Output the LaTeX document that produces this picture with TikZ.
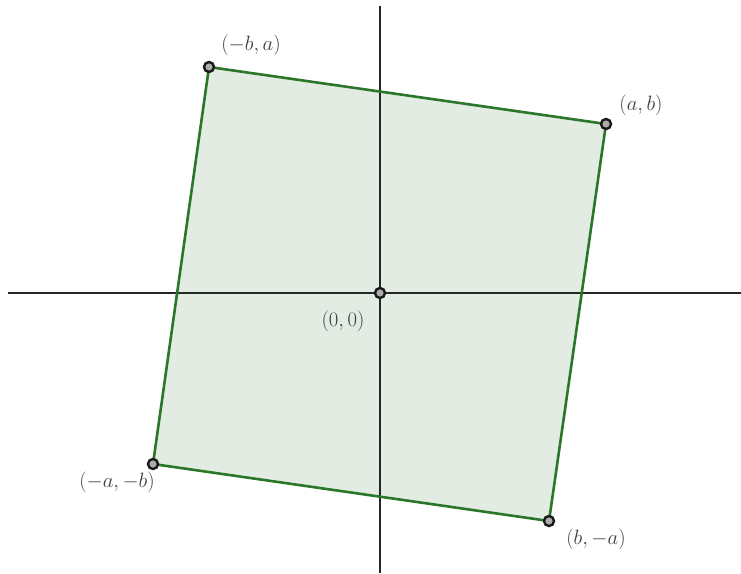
\documentclass[tikz,border=0pt]{standalone}
\usepackage{amsmath}
\definecolor{edgegreen}{HTML}{2A772A}
\definecolor{fillgreen}{HTML}{E2ECE2}
\definecolor{labelgray}{HTML}{404040}
\begin{document}
\begin{tikzpicture}[x=1pt,y=-1pt,
  axis/.style={line width=2.7pt,black!85},
  edge/.style={line width=2.6pt,edgegreen},
  vert/.style={circle,draw=black!90,line width=2.4pt,fill=gray!65,inner sep=0pt,minimum size=10pt},
  lbl/.style={text=labelgray,font=\fontsize{19.5}{22}\selectfont,inner sep=0pt}]
\useasboundingbox (0,0) rectangle (741,573);
\coordinate (xl) at (8,293);
\coordinate (xr) at (741,293);
\coordinate (yt) at (380,6);
\coordinate (yb) at (380,573);
\coordinate (A) at (606,124);
\coordinate (B) at (209,67);
\coordinate (C) at (153,464);
\coordinate (D) at (549,521);
\coordinate (O) at (380,293);
\fill[fillgreen] (A) -- (B) -- (C) -- (D) -- cycle;
\draw[axis] (xl) -- (xr);
\draw[axis] (yt) -- (yb);
\draw[edge,line join=round] (A) -- (B) -- (C) -- (D) -- cycle;
\node[vert] (nA) at (A) {};
\node[vert] (nB) at (B) {};
\node[vert] (nC) at (C) {};
\node[vert] (nD) at (D) {};
\node[vert] (nO) at (O) {};
\node[lbl] (lA) at (641,105) {$(a,b)$};
\node[lbl] (lB) at (251,45) {$(-b,a)$};
\node[lbl] (lC) at (117,482) {$(-a,-b)$};
\node[lbl] (lD) at (596,539) {$(b,-a)$};
\node[lbl] (lO) at (343,321) {$(0,0)$};
\end{tikzpicture}
\end{document}
